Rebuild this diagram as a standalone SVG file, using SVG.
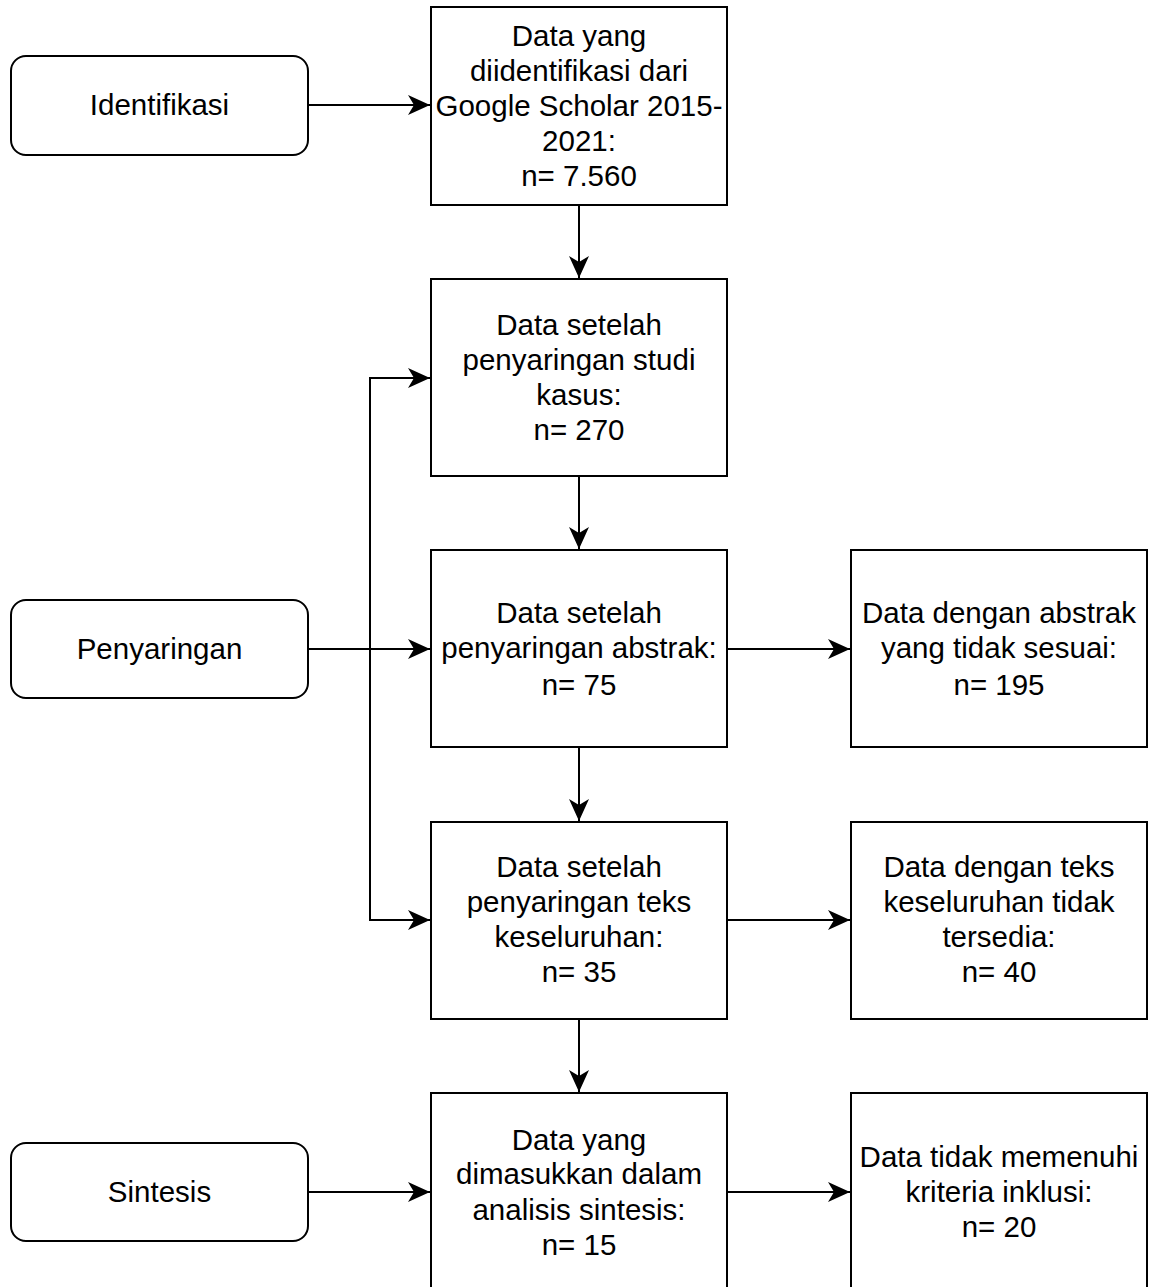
<svg xmlns="http://www.w3.org/2000/svg" width="1152" height="1287" viewBox="0 0 1152 1287">
<style>
.box{fill:#fff;stroke:#000;stroke-width:2}
.lbox{fill:#fff;stroke:#000;stroke-width:2}
.t{font-family:"Liberation Sans",Arial,sans-serif;font-size:29.5px;fill:#000;text-anchor:middle}
.c{fill:none;stroke:#000;stroke-width:2}
</style>
<defs>
<marker id="ah" markerUnits="userSpaceOnUse" markerWidth="24" markerHeight="22" refX="22" refY="10" orient="auto" viewBox="0 0 24 20">
<path d="M0,0 L22,10 L0,20 L6,10 Z" fill="#000"/>
</marker>
</defs>
<rect width="1152" height="1287" fill="#fff"/>
<g id="connectors">
<path class="c" d="M308,105 H430" marker-end="url(#ah)"/>
<path class="c" d="M579,205 V278" marker-end="url(#ah)"/>
<path class="c" d="M308,649 H430" marker-end="url(#ah)"/>
<path class="c" d="M370,649 V378 H430" marker-end="url(#ah)"/>
<path class="c" d="M370,649 V920 H430" marker-end="url(#ah)"/>
<path class="c" d="M579,476 V549" marker-end="url(#ah)"/>
<path class="c" d="M579,747 V821" marker-end="url(#ah)"/>
<path class="c" d="M579,1019 V1092" marker-end="url(#ah)"/>
<path class="c" d="M727,649 H850" marker-end="url(#ah)"/>
<path class="c" d="M727,920 H850" marker-end="url(#ah)"/>
<path class="c" d="M727,1192 H850" marker-end="url(#ah)"/>
<path class="c" d="M308,1192 H430" marker-end="url(#ah)"/>
</g>
<g id="identifikasi">
<rect class="lbox" x="11" y="56" width="297" height="99" rx="15"/>
<text class="t" x="159.5" y="115">Identifikasi</text>
</g>
<g id="penyaringan">
<rect class="lbox" x="11" y="600" width="297" height="98" rx="15"/>
<text class="t" x="159.5" y="659">Penyaringan</text>
</g>
<g id="sintesis">
<rect class="lbox" x="11" y="1143" width="297" height="98" rx="15"/>
<text class="t" x="159.5" y="1202">Sintesis</text>
</g>
<g id="box1">
<rect class="box" x="431" y="7" width="296" height="198"/>
<text class="t" x="579"><tspan x="579" y="46">Data yang</tspan><tspan x="579" y="81">diidentifikasi dari</tspan><tspan x="579" y="116">Google Scholar 2015-</tspan><tspan x="579" y="151">2021:</tspan><tspan x="579" y="186">n= 7.560</tspan></text>
</g>
<g id="box2">
<rect class="box" x="431" y="279" width="296" height="197"/>
<text class="t" x="579"><tspan x="579" y="335">Data setelah</tspan><tspan x="579" y="370">penyaringan studi</tspan><tspan x="579" y="405">kasus:</tspan><tspan x="579" y="440">n= 270</tspan></text>
</g>
<g id="box3">
<rect class="box" x="431" y="550" width="296" height="197"/>
<text class="t" x="579"><tspan x="579" y="623">Data setelah</tspan><tspan x="579" y="658">penyaringan abstrak:</tspan><tspan x="579" y="695">n= 75</tspan></text>
</g>
<g id="box4">
<rect class="box" x="431" y="822" width="296" height="197"/>
<text class="t" x="579"><tspan x="579" y="877">Data setelah</tspan><tspan x="579" y="912">penyaringan teks</tspan><tspan x="579" y="947">keseluruhan:</tspan><tspan x="579" y="982">n= 35</tspan></text>
</g>
<g id="box5">
<rect class="box" x="431" y="1093" width="296" height="200"/>
<text class="t" x="579"><tspan x="579" y="1150">Data yang</tspan><tspan x="579" y="1184">dimasukkan dalam</tspan><tspan x="579" y="1220">analisis sintesis:</tspan><tspan x="579" y="1255">n= 15</tspan></text>
</g>
<g id="r1">
<rect class="box" x="851" y="550" width="296" height="197"/>
<text class="t" x="999"><tspan x="999" y="623">Data dengan abstrak</tspan><tspan x="999" y="658">yang tidak sesuai:</tspan><tspan x="999" y="695">n= 195</tspan></text>
</g>
<g id="r2">
<rect class="box" x="851" y="822" width="296" height="197"/>
<text class="t" x="999"><tspan x="999" y="877">Data dengan teks</tspan><tspan x="999" y="912">keseluruhan tidak</tspan><tspan x="999" y="947">tersedia:</tspan><tspan x="999" y="982">n= 40</tspan></text>
</g>
<g id="r3">
<rect class="box" x="851" y="1093" width="296" height="200"/>
<text class="t" x="999"><tspan x="999" y="1167">Data tidak memenuhi</tspan><tspan x="999" y="1202">kriteria inklusi:</tspan><tspan x="999" y="1237">n= 20</tspan></text>
</g>
</svg>
